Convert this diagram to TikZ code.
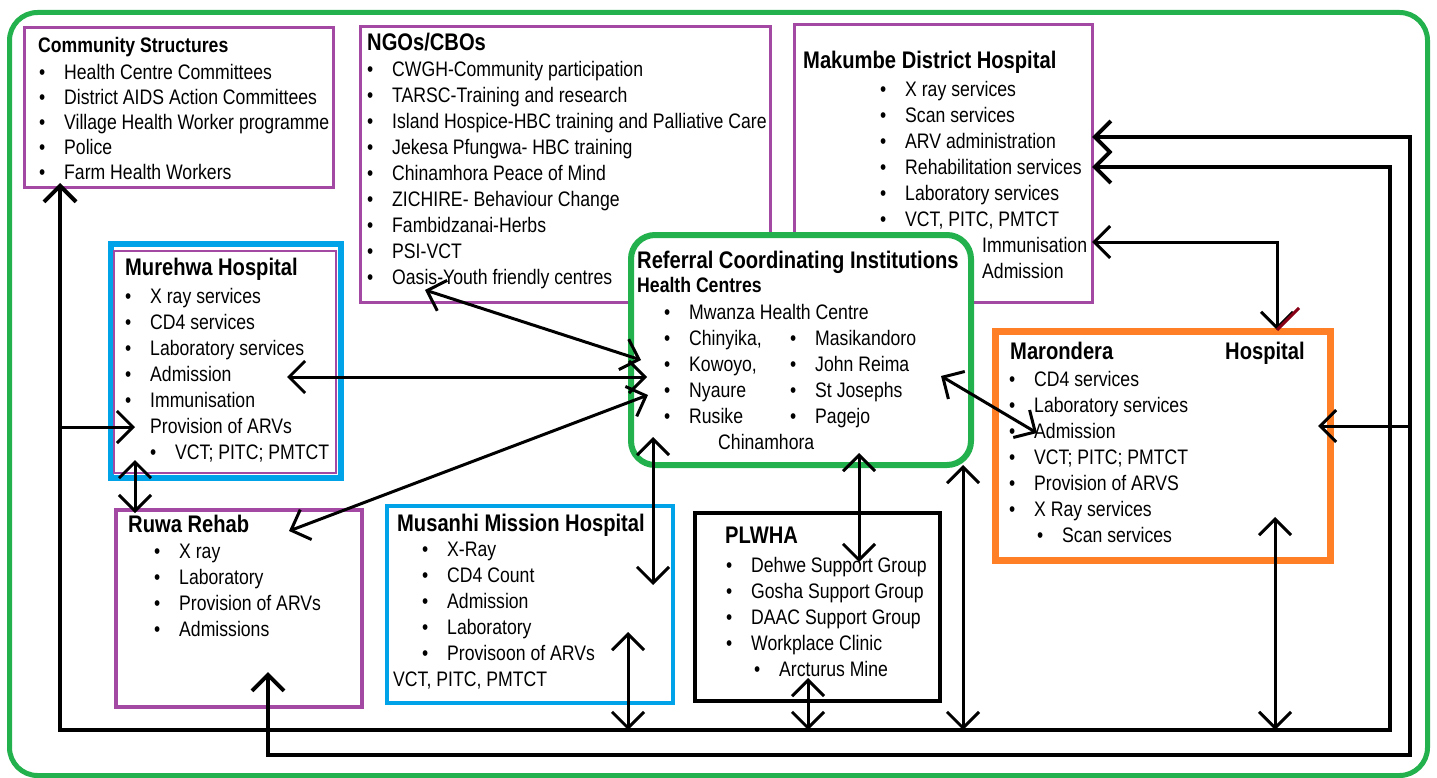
\documentclass[tikz,border=0pt]{standalone}
\usepackage{fontspec}
\setmainfont{Liberation Sans}[FakeStretch=0.84]
\usetikzlibrary{arrows.meta}
\definecolor{grn}{RGB}{34,177,76}
\definecolor{prp}{RGB}{163,73,164}
\definecolor{blu}{RGB}{0,162,232}
\definecolor{org}{RGB}{255,127,39}
\definecolor{drd}{RGB}{136,0,21}
\tikzstyle{box} = [draw, anchor=north west, inner sep=0pt, outer sep=0pt]
\tikzstyle{ttl} = [anchor=north west, inner sep=0pt, font=\fontsize{24}{28}\selectfont\bfseries]
\tikzstyle{lst} = [anchor=north west, inner sep=0pt, align=left, font=\fontsize{21}{26}\selectfont]
\tikzstyle{line} = [draw, line width=3pt, {Straight Barb[length=16pt,width=32pt]}-{Straight Barb[length=16pt,width=32pt]}]
\tikzstyle{wire} = [draw, line width=4pt, line join=miter]
\newcommand{\bl}{\makebox[25pt][l]{\textbullet}}

\begin{document}
\begin{tikzpicture}[x=1pt, y=-1pt]
  \useasboundingbox (0,0) rectangle (1437,778);
  % outer frame
  \node[box, grn, line width=5pt, rounded corners=28pt, minimum width=1418pt, minimum height=763pt] (frame) at (9.5,12.5) {};
  % boxes
  \node[box, prp, line width=3pt, minimum width=309pt, minimum height=160pt] (cs) at (24,28) {};
  \node[box, prp, line width=3pt, minimum width=410pt, minimum height=275pt] (ngo) at (360,27) {};
  \node[box, prp, line width=3pt, minimum width=298pt, minimum height=277pt] (mak) at (794,25) {};
  \node[box, grn, fill=white, line width=6pt, rounded corners=24pt, minimum width=340pt, minimum height=230pt] (ref) at (631,235) {};
  \node[box, blu, line width=6pt, minimum width=230pt, minimum height=234pt] (mur) at (110.5,244) {};
  \node[box, prp, line width=2pt, minimum width=222pt, minimum height=222pt] (murin) at (114,251) {};
  \node[box, prp, line width=4pt, minimum width=246pt, minimum height=197pt] (ruwa) at (116,510) {};
  \node[box, blu, line width=4pt, minimum width=286pt, minimum height=197pt] (mus) at (387,506) {};
  \node[box, black, line width=4pt, minimum width=245pt, minimum height=188pt] (plw) at (695,513) {};
  \node[box, org, line width=7pt, minimum width=335pt, minimum height=229pt] (mar) at (995,331) {};
  % texts
  \node[ttl, font=\fontsize{21}{26}\selectfont\bfseries] (cs-t) at (38,37) {Community Structures};
  \node[lst, font=\fontsize{21}{25}\selectfont] (cs-l) at (39,64) {\bl Health Centre Committees\\ \bl District AIDS Action Committees\\ \bl Village Health Worker programme\\ \bl Police\\ \bl Farm Health Workers};
  \node[ttl] (ngo-t) at (367,33) {NGOs/CBOs};
  \node[lst] (ngo-l) at (367,61) {\bl CWGH-Community participation\\ \bl TARSC-Training and research\\ \bl Island Hospice-HBC training and Palliative Care\\ \bl Jekesa Pfungwa- HBC training\\ \bl Chinamhora Peace of Mind\\ \bl ZICHIRE- Behaviour Change\\ \bl Fambidzanai-Herbs\\ \bl PSI-VCT\\ \bl Oasis-Youth friendly centres};
  \node[ttl] (mak-t) at (803,51) {Makumbe District Hospital};
  \node[lst] (mak-l) at (880,81) {\bl X ray services\\ \bl Scan services\\ \bl ARV administration\\ \bl Rehabilitation services\\ \bl Laboratory services\\ \bl VCT, PITC, PMTCT\\ \hspace*{102pt}Immunisation\\ \hspace*{102pt}Admission};
  \node[ttl] (ref-t) at (637,251) {Referral Coordinating Institutions};
  \node[ttl, font=\fontsize{21}{26}\selectfont\bfseries] (ref-s) at (637,277) {Health Centres};
  \node[lst] (ref-l) at (664,304) {\bl Mwanza Health Centre\\ \bl\makebox[101pt][l]{Chinyika,}\bl Masikandoro\\ \bl\makebox[101pt][l]{Kowoyo,}\bl John Reima\\ \bl\makebox[101pt][l]{Nyaure}\bl St Josephs\\ \bl\makebox[101pt][l]{Rusike}\bl Pagejo\\ \hspace*{54pt}Chinamhora};
  \node[ttl] (mur-t) at (125,258) {Murehwa Hospital};
  \node[lst] (mur-l) at (125,288) {\bl X ray services\\ \bl CD4 services\\ \bl Laboratory services\\ \bl Admission\\ \bl Immunisation\\ \hspace*{25pt}Provision of ARVs\\ \hspace*{25pt}\bl VCT; PITC; PMTCT};
  \node[ttl] (ruwa-t) at (128,515) {Ruwa Rehab};
  \node[lst] (ruwa-l) at (154,544) {\bl X ray\\ \bl Laboratory\\ \bl Provision of ARVs\\ \bl Admissions};
  \node[ttl] (mus-t) at (397,514) {Musanhi Mission Hospital};
  \node[lst] (mus-l) at (393,542) {\hspace*{29pt}\bl X-Ray\\ \hspace*{29pt}\bl CD4 Count\\ \hspace*{29pt}\bl Admission\\ \hspace*{29pt}\bl Laboratory\\ \hspace*{29pt}\bl Provisoon of ARVs\\ VCT, PITC, PMTCT};
  \node[ttl] (plw-t) at (725,527) {PLWHA};
  \node[lst] (plw-l) at (726,557) {\bl Dehwe Support Group\\ \bl Gosha Support Group\\ \bl DAAC Support Group\\ \bl Workplace Clinic\\ \hspace*{28pt}\bl Arcturus Mine};
  \node[ttl] (mar-t) at (1010,342) {Marondera};
  \node[ttl] (mar-t2) at (1225,342) {Hospital};
  \node[lst] (mar-l) at (1009,371) {\bl CD4 services\\ \bl Laboratory services\\ \bl Admission\\ \bl VCT; PITC; PMTCT\\ \bl Provision of ARVS\\ \bl X Ray services\\ \hspace*{28pt}\bl Scan services};
  % connector ends
  \coordinate (murR) at (287,377);
  \coordinate (ngoB) at (425,290);
  \coordinate (ruwaR) at (289,531);
  \coordinate (refL1) at (641,360);
  \coordinate (refL2) at (647,377);
  \coordinate (refL3) at (648,395);
  \coordinate (refB1) at (653,437);
  \coordinate (refB2) at (859,453);
  \coordinate (refB3) at (963,465);
  \coordinate (refR) at (941,376);
  \coordinate (musT) at (653,585);
  \coordinate (musB) at (628,632);
  \coordinate (plwT) at (859,562);
  \coordinate (plwB) at (808,678);
  \coordinate (marL) at (1037,433);
  \coordinate (marT) at (1277,330);
  \coordinate (marR) at (1318,426);
  \coordinate (marB) at (1275,517);
  \coordinate (murB) at (135,460);
  \coordinate (ruwaT) at (135,513);
  \coordinate (murL) at (135,427);
  \coordinate (csB) at (60,183);
  \coordinate (ruwaB) at (268,672);
  \coordinate (makR1) at (1092,137);
  \coordinate (makR2) at (1092,167);
  \coordinate (makR3) at (1092,242);
  % bus lines
  \coordinate (bus1) at (60,730);
  \coordinate (bus2) at (1390,730);
  \coordinate (bus3) at (1390,167);
  \coordinate (jmur) at (60,427);
  \coordinate (jmus) at (628,730);
  \coordinate (jplw) at (808,730);
  \coordinate (jref) at (963,730);
  \coordinate (jmar) at (1275,730);
  \coordinate (loop1) at (268,755);
  \coordinate (loop2) at (1410,755);
  \coordinate (loop3) at (1410,137);
  \coordinate (jmar2) at (1410,426);
  \coordinate (kink) at (1277,242);
  \path [line, wire] (csB) -- (bus1) -- (bus2) -- (bus3) -- (makR2);
  \path [line, wire] (ruwaB) -- (loop1) -- (loop2) -- (loop3) -- (makR1);
  \path [line, -{Straight Barb[length=16pt,width=32pt]}] (jmur) -- (murL);
  \path [line, -{Straight Barb[length=16pt,width=32pt]}] (jmar2) -- (marR);
  \path [line] (makR3) -- (kink) -- (marT);
  \path [line] (jmus) -- (musB);
  \path [line] (jplw) -- (plwB);
  \path [line] (jref) -- (refB3);
  \path [line] (jmar) -- (marB);
  \path [line] (murB) -- (ruwaT);
  \path [line] (murR) -- (refL2);
  \path [line] (ngoB) -- (refL1);
  \path [line] (ruwaR) -- (refL3);
  \path [line] (refB1) -- (musT);
  \path [line] (refB2) -- (plwT);
  \path [line] (refR) -- (marL);
  \draw [drd, line width=3pt] (marT) -- ++(22,-22);
\end{tikzpicture}
\end{document}
